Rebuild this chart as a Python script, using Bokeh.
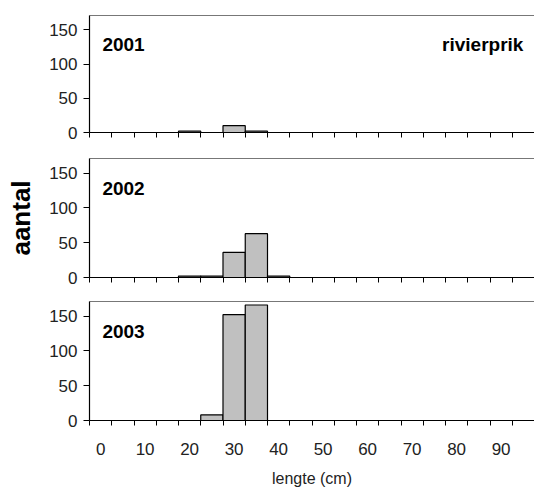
from bokeh.plotting import figure
from bokeh.layouts import column
from bokeh.models import Range1d, LinearAxis, FixedTicker, Label, ColumnDataSource
from bokeh.embed import file_html
from bokeh.resources import INLINE

# length classes (cm), 5 cm bins
bins = [0, 5, 10, 15, 20, 25, 30, 35, 40, 45, 50, 55, 60, 65, 70, 75, 80, 85, 90, 95]
tick_labels = [0, 10, 20, 30, 40, 50, 60, 70, 80, 90]

years = ["2001", "2002", "2003"]
counts_2001 = [0, 0, 0, 0, 2, 0, 10, 2, 0, 0, 0, 0, 0, 0, 0, 0, 0, 0, 0, 0]
counts_2002 = [0, 0, 0, 0, 2, 2, 36, 63, 2, 0, 0, 0, 0, 0, 0, 0, 0, 0, 0, 0]
counts_2003 = [0, 0, 0, 0, 0, 8, 152, 166, 0, 0, 0, 0, 0, 0, 0, 0, 0, 0, 0, 0]
y_ticks = [0, 50, 100, 150]

species = "rivierprik"
x_title = "lengte (cm)"
y_title = "aantal"

FONT = "Liberation Sans"
BIN_W = 5


def make_panel(year, counts, height, top, bottom, last=False, ylabel=None, species_label=None):
    p = figure(width=534, height=height,
               x_range=Range1d(bins[0] - BIN_W / 2, bins[-1] + BIN_W / 2),
               y_range=Range1d(0, 171),
               output_backend="svg", toolbar_location=None,
               min_border_left=89, min_border_right=0,
               min_border_top=top, min_border_bottom=bottom)
    p.grid.visible = False
    p.outline_line_color = None
    p.background_fill_color = "white"
    p.border_fill_color = "white"

    xs = [b for b, c in zip(bins, counts) if c > 0]
    cs = [c for c in counts if c > 0]
    src = ColumnDataSource(dict(x=xs, top=cs))
    p.vbar(x="x", top="top", width=BIN_W, bottom=0, source=src,
           fill_color="#c0c0c0", line_color="black", line_width=1.2)

    boundaries = [b - BIN_W / 2 for b in bins] + [bins[-1] + BIN_W / 2]
    xa = p.xaxis[0]
    xa.ticker = FixedTicker(ticks=tick_labels if last else [], minor_ticks=boundaries)
    xa.major_tick_out = 0
    xa.major_tick_in = 0
    xa.minor_tick_out = 5
    xa.minor_tick_in = 0
    xa.minor_tick_line_color = "black"
    xa.axis_line_color = "black"
    xa.axis_line_width = 1.2
    if last:
        xa.major_label_text_font = FONT
        xa.major_label_text_font_size = "17px"
        xa.major_label_text_color = "#222222"
        xa.major_label_standoff = 17
        xa.axis_label = x_title
        xa.axis_label_text_font = FONT
        xa.axis_label_text_font_size = "16px"
        xa.axis_label_text_font_style = "normal"
        xa.axis_label_text_color = "#222222"
        xa.axis_label_standoff = 12

    ya = p.yaxis[0]
    ya.ticker = FixedTicker(ticks=y_ticks)
    ya.major_tick_out = 6
    ya.major_tick_in = 0
    ya.minor_tick_out = 0
    ya.minor_tick_in = 0
    ya.axis_line_color = "black"
    ya.axis_line_width = 1.2
    ya.major_label_text_font = FONT
    ya.major_label_text_font_size = "17px"
    ya.major_label_text_color = "#222222"
    ya.major_label_standoff = 6
    if ylabel:
        ya.axis_label = ylabel
        ya.axis_label_text_font = FONT
        ya.axis_label_text_font_size = "26px"
        ya.axis_label_text_font_style = "bold"
        ya.axis_label_text_color = "black"
        ya.axis_label_standoff = 10

    top_ax = LinearAxis(ticker=FixedTicker(ticks=[]),
                        major_tick_out=0, major_tick_in=0,
                        minor_tick_out=0, minor_tick_in=0,
                        axis_line_color="#777777", axis_line_width=1.2)
    p.add_layout(top_ax, "above")

    p.add_layout(Label(x=0.4, y=128, text=year, text_font=FONT,
                       text_font_style="bold", text_font_size="19px",
                       text_color="black", text_baseline="alphabetic"))
    if species_label:
        p.add_layout(Label(x=95, y=128, text=species_label, text_font=FONT,
                           text_font_style="bold", text_font_size="19px",
                           text_color="black", text_align="right",
                           text_baseline="alphabetic"))
    return p


p1 = make_panel(years[0], counts_2001, 145, 15, 13, species_label=species)
p2 = make_panel(years[1], counts_2002, 144, 13, 12, ylabel=y_title)
p3 = make_panel(years[2], counts_2003, 201, 12, 70, last=True)

layout = column(p1, p2, p3, spacing=0)
open("out.html", "w").write(file_html(layout, INLINE))
